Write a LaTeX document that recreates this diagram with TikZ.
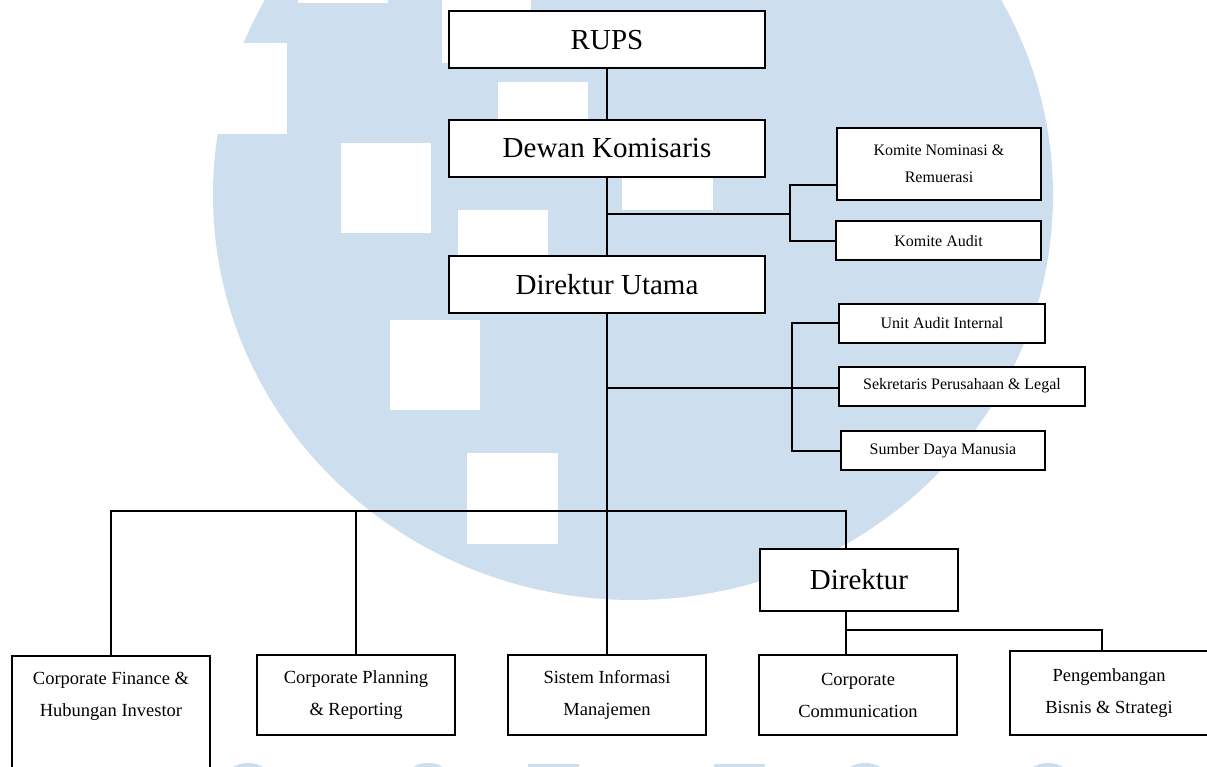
\documentclass[tikz,border=0pt]{standalone}
\usepackage{fontspec}
\setmainfont{Liberation Serif}
\definecolor{logoblue}{RGB}{205,222,238}

\begin{document}
\begin{tikzpicture}[x=1pt,y=-1pt,
        chief/.style={draw,line width=2pt,fill=white,inner sep=0pt,minimum width=316pt,minimum height=57pt,font=\fontsize{29}{34}\selectfont},
        staff/.style={draw,line width=2pt,fill=white,inner sep=0pt,minimum width=204pt,minimum height=39pt,align=center,font=\fontsize{16}{27}\selectfont},
        unit/.style={draw,line width=2pt,fill=white,inner sep=0pt,minimum width=198pt,minimum height=80pt,align=center,font=\fontsize{18.5}{32}\selectfont},
        link/.style={line width=2pt}]
        \useasboundingbox (0,0) rectangle (1207,767);
        \begin{scope}
        \clip (0,0) rectangle (1207,767);
        \fill[logoblue] (633,195) ellipse [x radius=420, y radius=405];
        \fill[white] (150,43) rectangle (287,134);
        \fill[white] (298,-87) rectangle (388,3);
        \fill[white] (442,-27) rectangle (531,63);
        \fill[white] (498,82) rectangle (588,172);
        \fill[white] (341,143) rectangle (431,233);
        \fill[white] (458,210) rectangle (548,300);
        \fill[white] (622,120) rectangle (713,210);
        \fill[white] (390,320) rectangle (480,410);
        \fill[white] (467,453) rectangle (558,544);
        \foreach \bx in {248,428,865,1048}
            \fill[logoblue] (\bx,775) ellipse [x radius=20, y radius=12];
        \fill[logoblue] (528,764) rectangle (579,770);
        \fill[logoblue] (714,764) rectangle (765,770);
        \end{scope}

        \node[chief] (rups) at (607,40) {RUPS};
        \node[chief] (dewan) at (607,148.5) {Dewan Komisaris};
        \node[chief] (utama) at (607,284.5) {Direktur Utama};

        \node[staff,minimum height=72pt] (komnom) at (939,164) {Komite Nominasi \&\\ Remuerasi};
        \node[staff,minimum width=205pt] (komaudit) at (938.5,241) {Komite Audit};
        \node[staff,minimum width=206pt] (audit) at (942,323) {Unit Audit Internal};
        \node[staff,minimum width=246pt] (sekre) at (962,386) {Sekretaris Perusahaan \& Legal};
        \node[staff] (sdm) at (943,450.5) {Sumber Daya Manusia};

        \node[chief,minimum width=198pt,minimum height=62pt] (dir) at (859,580) {Direktur};

        \node[unit,anchor=north,minimum height=178pt] (cfin) at (111,655) {Corporate Finance \&\\ Hubungan Investor\\[70pt]~};
        \node[unit] (cplan) at (356,695) {Corporate Planning\\ \& Reporting};
        \node[unit] (sim) at (607,695) {Sistem Informasi\\ Manajemen};
        \node[unit] (ccom) at (858,695) {Corporate\\ Communication};
        \node[unit,minimum height=84pt] (pbs) at (1109,693) {Pengembangan\\ Bisnis \& Strategi};

        \coordinate (kj) at (607,214);
        \coordinate (kbus) at (790,214);
        \coordinate (sj) at (607,388);
        \coordinate (sbus) at (792,388);
        \coordinate (bj) at (607,511);
        \coordinate (dbus) at (846,511);
        \coordinate (pj) at (846,630);
        \coordinate (pbus) at (1102,630);

        \draw[link] (rups) -- (dewan);
        \draw[link] (dewan) -- (utama);
        \draw[link] (utama) -- (sim);
        \draw[link] (kj) -- (kbus);
        \draw[link] ([yshift=-21pt]komnom.west) -| (kbus) |- (komaudit.west);
        \draw[link] (sj) -- (sj -| sekre.west);
        \draw[link] (audit.west) -| (sbus) |- (sdm.west);
        \draw[link] (cfin.north) |- (bj);
        \draw[link] (cplan.north) -- (cplan.north |- bj);
        \draw[link] (bj) -- (dbus) -- (dbus |- dir.north);
        \draw[link] (dbus |- dir.south) -- (dbus |- ccom.north);
        \draw[link] (pj) -- (pbus) -- (pbus |- pbs.north);
    \end{tikzpicture}
\end{document}
